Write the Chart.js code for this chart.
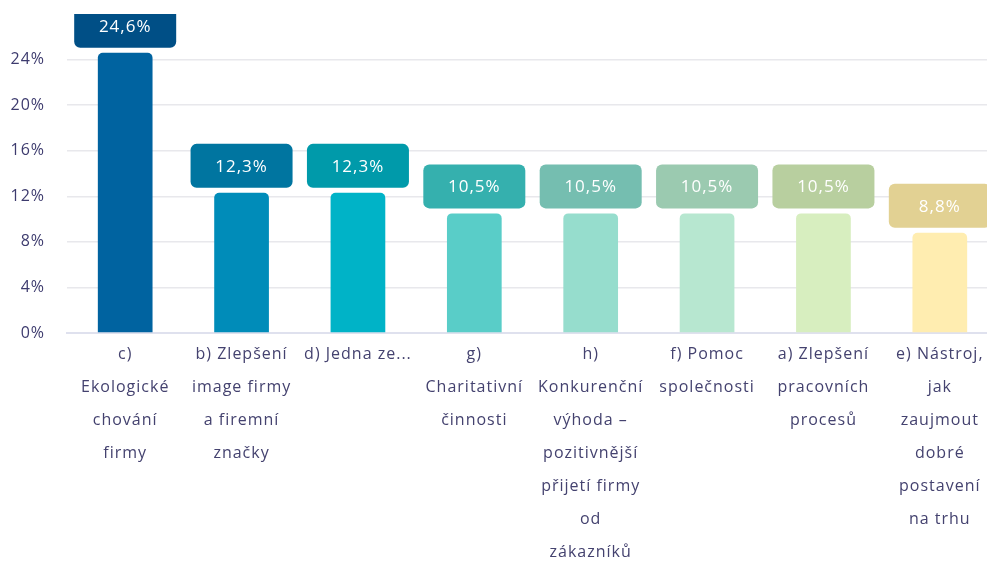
<!DOCTYPE html>
<html>
<head>
<meta charset="utf-8">
<script src="https://cdn.jsdelivr.net/npm/chart.js@4/dist/chart.umd.min.js"></script>
<style>
  html, body { margin: 0; padding: 0; background: #fff; overflow: hidden; }
  #wrap { width: 998px; height: 561px; position: relative; }
</style>
</head>
<body>
<div id="wrap"><canvas id="c"></canvas></div>
<script>
const categories = [
  ["c)", "Ekologické", "chování", "firmy"],
  ["b) Zlepšení", "image firmy", "a firemní", "značky"],
  ["d) Jedna ze..."],
  ["g)", "Charitativní", "činnosti"],
  ["h)", "Konkurenční", "výhoda –", "pozitivnější", "přijetí firmy", "od", "zákazníků"],
  ["f) Pomoc", "společnosti"],
  ["a) Zlepšení", "pracovních", "procesů"],
  ["e) Nástroj,", "jak", "zaujmout", "dobré", "postavení", "na trhu"]
];
const values = [24.6, 12.3, 12.3, 10.5, 10.5, 10.5, 10.5, 8.8];
const yTicks = [0, 4, 8, 12, 16, 20, 24];

const barColors = ["#0063a0", "#008cb9", "#00b3c7", "#59cdc8", "#96ddcd", "#b7e7d0", "#d7eebf", "#ffedb0"];
const boxColors = ["#004f86", "#0075a0", "#009aaa", "#35b0ae", "#75beb0", "#9bcab0", "#b8cf9f", "#e2d193"];

const fontFam = "'Open Sans', Lato, sans-serif";

const spacing = {
  id: 'spacing',
  beforeDraw(chart) { chart.ctx.letterSpacing = '1px'; }
};

const labelBoxes = {
  id: 'labelBoxes',
  afterDatasetsDraw(chart) {
    const ctx = chart.ctx;
    const area = chart.chartArea;
    const meta = chart.getDatasetMeta(0);
    ctx.save();
    ctx.beginPath();
    ctx.rect(area.left, area.top, area.right - area.left, area.bottom - area.top);
    ctx.clip();
    meta.data.forEach((bar, i) => {
      const w = 102, h = 44, gap = 5, r = 6;
      const x = bar.x - w / 2;
      const y = bar.y - gap - h;
      ctx.fillStyle = boxColors[i];
      ctx.beginPath();
      ctx.roundRect(x, y, w, h, r);
      ctx.fill();
      ctx.fillStyle = "#ffffff";
      ctx.letterSpacing = '1px';
      ctx.font = "17px " + fontFam;
      ctx.textAlign = "center";
      ctx.textBaseline = "middle";
      ctx.fillText(values[i].toFixed(1).replace('.', ',') + '%', bar.x, y + h / 2 + 1);
    });
    ctx.restore();
  }
};

new Chart(document.getElementById('c'), {
  type: 'bar',
  data: {
    labels: categories,
    datasets: [{
      data: values,
      backgroundColor: barColors,
      borderRadius: { topLeft: 5, topRight: 5, bottomLeft: 0, bottomRight: 0 },
      borderSkipped: 'start',
      barPercentage: 0.47,
      categoryPercentage: 1
    }]
  },
  options: {
    responsive: true,
    maintainAspectRatio: false,
    animation: false,
    layout: { padding: { top: 14, right: 0, left: 0, bottom: 0 } },
    plugins: { legend: { display: false }, tooltip: { enabled: false } },
    scales: {
      x: {
        grid: { display: false, drawTicks: false },
        border: { display: true, color: "#dfe1ee", width: 2 },
        ticks: {
          color: "#44426f",
          font: { family: fontFam, size: 16, lineHeight: 2.06 },
          padding: 5,
          maxRotation: 0,
          autoSkip: false
        },
        afterFit(scale) { scale.height = 228; }
      },
      y: {
        min: 0,
        max: 28,
        afterBuildTicks(scale) {
          scale.ticks = yTicks.map(v => ({ value: v }));
        },
        grid: { color: "#e8e8ec", drawTicks: false, lineWidth: 1.5 },
        border: { display: false },
        ticks: {
          color: "#3d3b6e",
          font: { family: fontFam, size: 16 },
          padding: 22,
          callback: v => v + '%'
        },
        afterFit(scale) {
          scale.width = 67;
          scale.paddingTop = 0;
          scale.paddingBottom = 0;
        }
      }
    }
  },
  plugins: [spacing, labelBoxes]
});
</script>
</body>
</html>
